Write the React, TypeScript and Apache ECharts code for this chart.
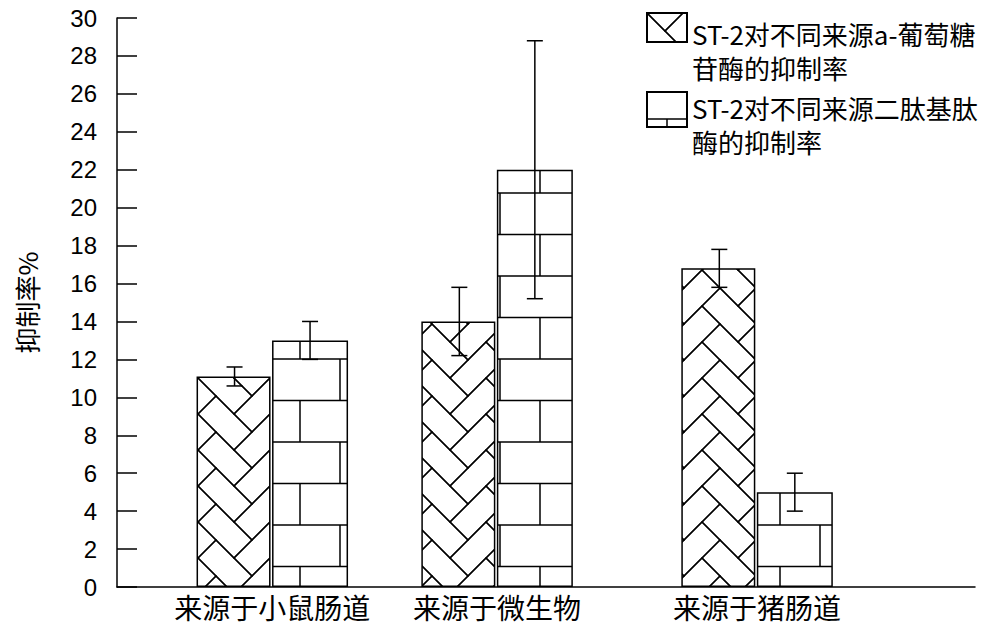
import React, { useEffect, useRef } from 'react';
import * as echarts from 'echarts';

// x positions of the three groups on a 0..10 value axis (groups are not evenly spaced)
const categories = ['来源于小鼠肠道', '来源于微生物', '来源于猪肠道'];
const groupCenters = [1.81, 4.43, 7.46];
const barOffset = 0.44;

const seriesNames = ['ST-2对不同来源a-葡萄糖苷酶的抑制率', 'ST-2对不同来源二肽基肽酶的抑制率'];
const legendLines = [
  ['ST-2对不同来源a-葡萄糖', '苷酶的抑制率'],
  ['ST-2对不同来源二肽基肽', '酶的抑制率'],
];

const glucosidase = [11.1, 14.0, 16.8];
const glucosidaseErr = [0.5, 1.8, 1.0];
const peptidase = [13.0, 22.0, 5.0];
const peptidaseErr = [1.0, 6.8, 1.0];

const yMin = 0;
const yMax = 30;
const yStep = 2;

const CJK = '"Noto Sans CJK SC", sans-serif';

function svgUrl(w: number, h: number, body: string) {
  const svg = `<svg xmlns="http://www.w3.org/2000/svg" width="${w}" height="${h}" viewBox="0 0 ${w} ${h}">${body}</svg>`;
  return 'data:image/svg+xml;charset=utf-8,' + encodeURIComponent(svg);
}

// herringbone: bricks 2x1 in a 45deg rotated grid
function herringbone() {
  const k = 18;
  const w = 4 * k;
  const h = 2 * k;
  const pt = (u: number, v: number) => `${((u - v) * k).toFixed(2)},${((u + v) * k).toFixed(2)}`;
  let polys = '';
  for (let m = -3; m <= 3; m++) {
    for (let n = -5; n <= 5; n++) {
      const u = n + 2 * m;
      const v = n - 2 * m;
      polys += `<polygon points="${pt(u, v)} ${pt(u + 2, v)} ${pt(u + 2, v + 1)} ${pt(u, v + 1)}"/>`;
      polys += `<polygon points="${pt(u, v + 1)} ${pt(u + 1, v + 1)} ${pt(u + 1, v + 3)} ${pt(u, v + 3)}"/>`;
    }
  }
  return {
    image: svgUrl(w, h, `<g fill="none" stroke="#000" stroke-width="1.4">${polys}</g>`),
    imageWidth: w,
    imageHeight: h,
    repeat: 'repeat',
  };
}

function bricks() {
  const w = 80;
  const h = 83;
  const a = 27;
  const b = 68.5;
  const body =
    `<g fill="none" stroke="#000" stroke-width="1.5">` +
    `<line x1="0" y1="${a}" x2="${w}" y2="${a}"/>` +
    `<line x1="0" y1="${b}" x2="${w}" y2="${b}"/>` +
    `<line x1="20" y1="${a}" x2="20" y2="${b}"/>` +
    `<line x1="60" y1="${b}" x2="60" y2="${h}"/>` +
    `<line x1="60" y1="0" x2="60" y2="${a}"/>` +
    `</g>`;
  return { image: svgUrl(w, h, body), imageWidth: w, imageHeight: h, repeat: 'repeat' };
}

const legendText = { fontFamily: CJK, fontSize: 26, lineHeight: 34, color: '#000' };

const App: React.FC = () => {
  const chartRef = useRef<HTMLDivElement>(null);

  useEffect(() => {
    if (!chartRef.current) return;
    const chart = echarts.init(chartRef.current, undefined, { renderer: 'svg' });

    const errStyle = { stroke: '#000', lineWidth: 1.5 };
    const errorBar = (params: any, api: any) => {
      const x = api.value(0);
      const top = api.coord([x, api.value(2)]);
      const bot = api.coord([x, api.value(1)]);
      const cap = 8;
      return {
        type: 'group',
        children: [
          { type: 'line', shape: { x1: top[0], y1: top[1], x2: bot[0], y2: bot[1] }, style: errStyle },
          { type: 'line', shape: { x1: top[0] - cap, y1: top[1], x2: top[0] + cap, y2: top[1] }, style: errStyle },
          { type: 'line', shape: { x1: bot[0] - cap, y1: bot[1], x2: bot[0] + cap, y2: bot[1] }, style: errStyle },
        ],
      };
    };

    // a spacer line on top pushes the two text lines down next to the icon
    const makeLegend = (i: number, top: number, itemHeight: number, spacer: number) => ({
      orient: 'vertical',
      left: 646,
      top,
      padding: 0,
      itemWidth: 40,
      itemHeight,
      icon: 'rect',
      selectedMode: false,
      data: [seriesNames[i]],
      formatter: () => `{e| }\n{t|${legendLines[i][0]}}\n{t|${legendLines[i][1]}}`,
      textStyle: {
        ...legendText,
        rich: {
          e: { fontSize: 10, lineHeight: spacer },
          t: legendText,
        },
      },
    });

    chart.setOption({
      animation: false,
      backgroundColor: '#fff',
      grid: { left: 117, right: 25, top: 18, bottom: 44, containLabel: false, outerBoundsMode: 'none' },
      legend: [makeLegend(0, -29, 29, 45), makeLegend(1, 61, 35, 29)],
      xAxis: {
        type: 'value',
        min: 0,
        max: 10,
        splitLine: { show: false },
        axisTick: { show: false },
        axisLine: { onZero: false, lineStyle: { color: '#000', width: 1.5 } },
        axisLabel: {
          customValues: groupCenters,
          formatter: (v: number) => categories[groupCenters.indexOf(v)] ?? '',
          fontFamily: CJK,
          fontSize: 28,
          color: '#000',
          margin: 6,
        },
      },
      yAxis: {
        type: 'value',
        min: yMin,
        max: yMax,
        interval: yStep,
        name: '抑制率%',
        nameLocation: 'middle',
        nameRotate: 90,
        nameGap: 78,
        nameTextStyle: { fontFamily: CJK, fontSize: 26, color: '#000' },
        splitLine: { show: false },
        axisLine: { show: true, lineStyle: { color: '#000', width: 1.5 } },
        axisTick: { show: true, inside: true, length: 20, lineStyle: { color: '#000', width: 1.5 } },
        axisLabel: { fontFamily: '"Liberation Sans", Arial, sans-serif', fontSize: 24, color: '#000', margin: 20 },
      },
      series: [
        {
          name: seriesNames[0],
          type: 'bar',
          barWidth: 74,
          barGap: '-100%',
          itemStyle: { color: herringbone(), borderColor: '#000', borderWidth: 1.5 },
          data: groupCenters.map((c, i) => [c - barOffset, glucosidase[i]]),
        },
        {
          name: seriesNames[1],
          type: 'bar',
          barWidth: 76,
          barGap: '-100%',
          itemStyle: { color: bricks(), borderColor: '#000', borderWidth: 1.5 },
          data: groupCenters.map((c, i) => [c + barOffset, peptidase[i]]),
        },
        {
          type: 'custom',
          name: 'err1',
          z: 10,
          renderItem: errorBar,
          encode: { x: 0, y: [1, 2] },
          data: groupCenters.map((c, i) => [
            c - barOffset,
            glucosidase[i] - glucosidaseErr[i],
            glucosidase[i] + glucosidaseErr[i],
          ]),
        },
        {
          type: 'custom',
          name: 'err2',
          z: 10,
          renderItem: errorBar,
          encode: { x: 0, y: [1, 2] },
          data: groupCenters.map((c, i) => [
            c + barOffset,
            peptidase[i] - peptidaseErr[i],
            peptidase[i] + peptidaseErr[i],
          ]),
        },
      ],
    });

    return () => {
      chart.dispose();
    };
  }, []);

  return (
    <div
      ref={chartRef}
      style={{ position: 'absolute', left: 0, top: 0, width: '1000px', height: '631px' }}
    />
  );
};

export default App;
